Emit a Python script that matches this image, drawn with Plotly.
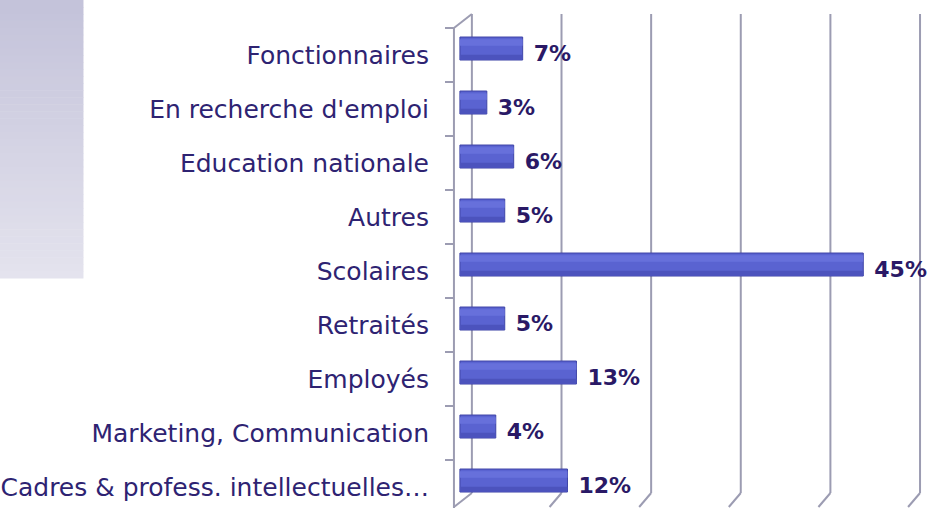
import plotly.graph_objects as go

# Données (de bas en haut)
categories = [
    "Cadres & profess. intellectuelles…",
    "Marketing, Communication",
    "Employés",
    "Retraités",
    "Scolaires",
    "Autres",
    "Education nationale",
    "En recherche d'emploi",
    "Fonctionnaires",
]
valeurs = [12, 4, 13, 5, 45, 5, 6, 3, 7]
graduations = [0, 10, 20, 30, 40, 50]

W, H = 932, 508
marges = dict(l=440, r=4, t=10, b=0)
px_x = 9.0    # pixels par %
px_y = 54.0   # pixels par catégorie
x_min = -2.0
x_max = x_min + (W - marges["l"] - marges["r"]) / px_x
y_haut = 8 + 45 / px_y
y_bas = y_haut - (H - marges["t"] - marges["b"]) / px_y

dx = 12 / px_x        # profondeur 3D
dy = 14 / px_y
sol_avant = y_haut - 497 / px_y
sol_arriere = sol_avant + dy
haut_avant = len(categories) - 0.5
haut_arriere = haut_avant + dy
mur_x = -6 / px_x

grille = "#9c9cb2"

fig = go.Figure()

# cylindre : corps, ombre basse, reflet haut
fig.add_trace(go.Bar(
    x=valeurs, y=categories, orientation="h",
    width=0.426, offset=-0.093,
    marker=dict(color="#5a63d1", line=dict(color="#3e44a6", width=1)),
    hoverinfo="skip",
))
fig.add_trace(go.Bar(
    x=valeurs, y=categories, orientation="h",
    width=0.09, offset=-0.085,
    marker=dict(color="#4c53bd", line=dict(width=0)),
    hoverinfo="skip",
))
fig.add_trace(go.Bar(
    x=valeurs, y=categories, orientation="h",
    width=0.12, offset=0.17,
    marker=dict(color="#6770db", line=dict(width=0)),
    hoverinfo="skip",
))
# étiquettes des valeurs
fig.add_trace(go.Scatter(
    x=valeurs, y=categories, mode="text",
    text=["\u2002%d%%" % v for v in valeurs],
    textposition="middle right",
    textfont=dict(family="DejaVu Sans", size=22, color="#2a1966", weight="bold"),
    cliponaxis=False, hoverinfo="skip",
))

shapes = []
# panneau dégradé en haut à gauche
pw = W - marges["l"] - marges["r"]
ph = H - marges["t"] - marges["b"]
n = 40
for i in range(n):
    t = i / (n - 1)
    r = int(196 + (228 - 196) * t)
    g = int(195 + (227 - 195) * t)
    b = int(218 + (238 - 218) * t)
    y0 = -10 if i == 0 else i * 278 / n
    y1 = (i + 1) * 278 / n + 0.5
    shapes.append(dict(
        type="rect", xref="paper", yref="paper", layer="below",
        x0=(-10 - marges["l"]) / pw, x1=(80 - marges["l"]) / pw,
        y0=(H - marges["b"] - y1) / ph, y1=(H - marges["b"] - y0) / ph,
        fillcolor="rgb(%d,%d,%d)" % (r, g, b), line=dict(width=0),
    ))

# quadrillage vertical (plan arrière) avec diagonales au sol
for v in graduations:
    shapes.append(dict(type="line", xref="x", yref="y", layer="below",
                       x0=v + dx, x1=v + dx, y0=haut_arriere, y1=sol_arriere,
                       line=dict(color=grille, width=2)))
    shapes.append(dict(type="line", xref="x", yref="y", layer="below",
                       x0=v + dx, x1=(mur_x if v == 0 else v), y0=sol_arriere, y1=sol_avant,
                       line=dict(color=grille, width=2)))

# mur gauche
shapes.append(dict(type="line", xref="x", yref="y", layer="below",
                   x0=mur_x, x1=mur_x, y0=haut_avant, y1=sol_avant - 1,
                   line=dict(color=grille, width=2)))
shapes.append(dict(type="line", xref="x", yref="y", layer="below",
                   x0=mur_x, x1=dx, y0=haut_avant, y1=haut_arriere,
                   line=dict(color=grille, width=2)))
for k in range(len(categories)):
    yb = k + 0.5
    shapes.append(dict(type="line", xref="x", yref="y", layer="below",
                       x0=mur_x - 9 / px_x, x1=mur_x, y0=yb, y1=yb,
                       line=dict(color=grille, width=2)))

fig.update_layout(
    width=W, height=H,
    margin=marges,
    plot_bgcolor="white", paper_bgcolor="white",
    barmode="overlay",
    showlegend=False,
    shapes=shapes,
    xaxis=dict(range=[x_min, x_max], showgrid=False, zeroline=False,
               showticklabels=False, showline=False, fixedrange=True),
    yaxis=dict(type="category", categoryorder="array", categoryarray=categories,
               range=[y_bas, y_haut], showgrid=False, zeroline=False,
               showline=False, ticks="", ticklabelstandoff=12,
               tickfont=dict(family="DejaVu Sans", size=25, color="#2e2372"),
               fixedrange=True),
)

# pas de marge de page autour du graphique
fig.write_html("out.html", config={"displayModeBar": False},
               post_script="document.body.style.margin='0px';")
